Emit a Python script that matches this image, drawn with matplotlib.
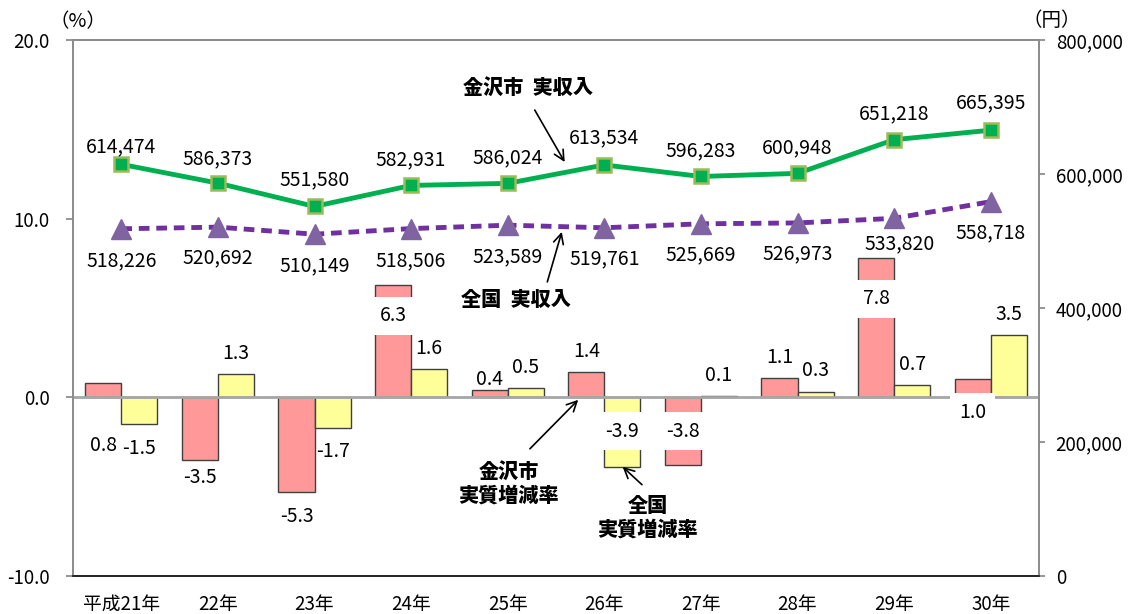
import matplotlib
matplotlib.use("Agg")
import matplotlib.pyplot as plt
import numpy as np

plt.rcParams['font.family'] = ['Noto Sans CJK JP', 'DejaVu Sans']

# ---------------- data ----------------
years = ['平成21年', '22年', '23年', '24年', '25年', '26年', '27年', '28年', '29年', '30年']
kanazawa_income = [614474, 586373, 551580, 582931, 586024, 613534, 596283, 600948, 651218, 665395]
national_income = [518226, 520692, 510149, 518506, 523589, 519761, 525669, 526973, 533820, 558718]
kanazawa_rate = [0.8, -3.5, -5.3, 6.3, 0.4, 1.4, -3.8, 1.1, 7.8, 1.0]
national_rate = [-1.5, 1.3, -1.7, 1.6, 0.5, -3.9, 0.1, 0.3, 0.7, 3.5]

# ---------------- label placement (pixels, style only) ----------------
k_inc_dy = [18, 24, 27, 26, 26, 27, 26, 26, 26, 27]
n_inc_dy = [-32, -31, -32, -32, -32, -31, -31, -31, -25, -31]
n_inc_dx = [0, 0, 0, 0, 0, 0, 0, 0, 6, 0]
k_rate_dy = [-62, -18, -24, -31, 11, 21, 34, 20, -41, -33]
n_rate_dy = [-24, 21, -24, 20, 21, 36, 20, 21, 20, 20]
k_rate_boxed = [False, False, False, True, False, False, True, False, True, True]
n_rate_boxed = [False, False, False, False, False, True, False, False, False, False]

W, H = 1129, 614
fig = plt.figure(figsize=(W / 100, H / 100), dpi=100)
ax = fig.add_axes([73 / W, 1 - 576 / H, (1039 - 73) / W, (576 - 40) / H])
ax2 = ax.twinx()

x = np.arange(len(years))
bw = 0.373
pink = '#FF9999'
yellow = '#FFFF99'
edge = '#404040'

ax.bar(x - bw / 2, kanazawa_rate, bw, color=pink, edgecolor=edge, linewidth=1.0, zorder=2)
ax.bar(x + bw / 2, national_rate, bw, color=yellow, edgecolor=edge, linewidth=1.0, zorder=2)
ax.axhline(0, color='#A6A6A6', linewidth=2.0, zorder=3)

ax.set_xlim(-0.5, len(years) - 0.5)
ax.set_ylim(-10, 20)
ax.set_yticks([-10, 0, 10, 20])
ax.set_yticklabels([f'{v:.1f}' for v in [-10, 0, 10, 20]])
ax.set_xticks(x)
ax.set_xticklabels(years)

ax2.set_ylim(0, 800000)
ax2.set_yticks([0, 200000, 400000, 600000, 800000])
ax2.set_yticklabels([f'{v:,}' for v in [0, 200000, 400000, 600000, 800000]])

for a in (ax, ax2):
    for s in ('left', 'right', 'top'):
        a.spines[s].set_color('#8C8C8C')
        a.spines[s].set_linewidth(1.3)
    a.spines['bottom'].set_color('#262626')
    a.spines['bottom'].set_linewidth(1.3)

ax.tick_params(axis='y', direction='out', length=5, width=1.3, color='#8C8C8C',
               labelsize=13.5, pad=12)
ax.tick_params(axis='x', length=0, labelsize=13.5, pad=13)
ax2.tick_params(axis='y', direction='out', length=4.5, width=1.3, color='#8C8C8C',
                labelsize=13.5, pad=7.5)

# lines on right axis
ax2.plot(x, kanazawa_income, color='#00B050', linewidth=3.5, marker='s', markersize=10,
         markerfacecolor='#00B050', markeredgecolor='#9BBB59', markeredgewidth=1.8, zorder=5)
ax2.plot(x, national_income, color='#7030A0', linewidth=3.5, linestyle=(0, (2.2, 1.4)),
         marker='^', markersize=15, markerfacecolor='#8064A2', markeredgecolor='#8064A2', zorder=5)

fs = 14
for i, v in enumerate(kanazawa_income):
    ax2.annotate(f'{v:,}', (x[i], v), xytext=(0, k_inc_dy[i]), textcoords='offset pixels',
                 ha='center', va='center', fontsize=fs, zorder=6)
for i, v in enumerate(national_income):
    ax2.annotate(f'{v:,}', (x[i], v), xytext=(n_inc_dx[i], n_inc_dy[i]), textcoords='offset pixels',
                 ha='center', va='center', fontsize=fs, zorder=6)

for i, v in enumerate(kanazawa_rate):
    bb = dict(boxstyle='square,pad=0.45', facecolor='white', edgecolor='none') if k_rate_boxed[i] else None
    ax.annotate(f'{v:.1f}', (x[i] - bw / 2, v), xytext=(0, k_rate_dy[i]), textcoords='offset pixels',
                ha='center', va='center', fontsize=fs, bbox=bb, zorder=4)
for i, v in enumerate(national_rate):
    bb = dict(boxstyle='square,pad=0.45', facecolor='white', edgecolor='none') if n_rate_boxed[i] else None
    ax.annotate(f'{v:.1f}', (x[i] + bw / 2, v), xytext=(0, n_rate_dy[i]), textcoords='offset pixels',
                ha='center', va='center', fontsize=fs, bbox=bb, zorder=4)

# callouts (in left-axis data coordinates)
tkw = dict(ha='center', va='center', fontsize=14.5, fontweight='heavy', fontstyle='italic',
           linespacing=1.25, zorder=7)
akw = dict(arrowstyle='->', color='black', lw=1.2, shrinkA=0, shrinkB=0, mutation_scale=18)

ax2.text(4.21, 17.31, '金沢市  実収入', transform=ax.transData, **tkw)
ax2.annotate('', xy=(4.59, 13.17), xytext=(4.28, 16.08), xycoords=ax.transData,
             textcoords=ax.transData, arrowprops=akw)
ax2.text(4.09, 5.45, '全国  実収入', transform=ax.transData, **tkw)
ax2.annotate('', xy=(4.56, 9.26), xytext=(4.41, 6.46), xycoords=ax.transData,
             textcoords=ax.transData, arrowprops=akw)
ax2.text(4.01, -4.84, '金沢市\n実質増減率', transform=ax.transData, **tkw)
ax2.annotate('', xy=(4.73, -0.14), xytext=(4.23, -2.88), xycoords=ax.transData,
             textcoords=ax.transData, arrowprops=akw)
ax2.text(5.45, -6.74, '全国\n実質増減率', transform=ax.transData, **tkw)
ax2.annotate('', xy=(5.19, -3.89), xytext=(5.39, -4.89), xycoords=ax.transData,
             textcoords=ax.transData, arrowprops=akw)

# axis unit labels
fig.text(78 / W, 1 - 22 / H, '（%）', ha='center', va='center', fontsize=14)
fig.text(1052 / W, 1 - 20 / H, '（円）', ha='center', va='center', fontsize=14)

fig.savefig('out.png', dpi=100)
